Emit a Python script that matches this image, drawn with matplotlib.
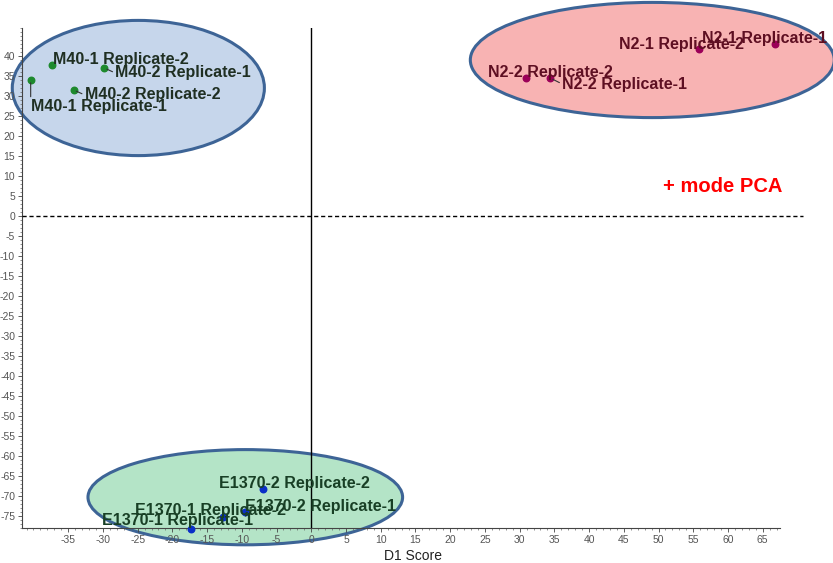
import matplotlib
matplotlib.use("Agg")
import matplotlib.pyplot as plt
from matplotlib.patches import Ellipse
from matplotlib.ticker import MultipleLocator, FixedLocator
import numpy as np

plt.rcParams['font.family'] = ['Liberation Sans', 'DejaVu Sans']
plt.rcParams['axes.unicode_minus'] = False

# scores (D1 on x, D2 on y) per sample
m40_names = ['M40-1 Replicate-1', 'M40-1 Replicate-2', 'M40-2 Replicate-1', 'M40-2 Replicate-2']
m40_x = [-40.4, -37.4, -29.8, -34.2]
m40_y = [34.0, 37.8, 37.0, 31.5]

n2_names = ['N2-1 Replicate-1', 'N2-1 Replicate-2', 'N2-2 Replicate-2', 'N2-2 Replicate-1']
n2_x = [66.8, 55.8, 30.9, 34.4]
n2_y = [43.0, 41.8, 34.5, 34.5]

e_names = ['E1370-2 Replicate-2', 'E1370-2 Replicate-1', 'E1370-1 Replicate-2', 'E1370-1 Replicate-1']
e_x = [-6.9, -9.6, -12.7, -17.3]
e_y = [-68.3, -74.0, -75.3, -78.2]

x_ticks = np.arange(-35, 70, 5)
y_ticks = np.arange(-75, 45, 5)

fig = plt.figure(figsize=(8.33, 5.63), dpi=100)
ax = fig.add_axes([22/833, 35/563, 781/833, 500/563])
ax.set_xlim(-41.65, 70.8)
ax.set_ylim(-78, 47)

# group ellipses (drawn by hand on the original)
ellipses = [
    ((-24.9, 32.0), 36.3, 33.8, '#c6d6eb'),
    ((49.1, 39.0), 52.4, 28.8, '#f8b3b3'),
    ((-9.5, -70.3), 45.3, 23.8, '#b4e4c7'),
]
for c, w, h, fc in ellipses:
    ax.add_patch(Ellipse(c, w, h, facecolor=fc, edgecolor='#3d6496', lw=2.2,
                         clip_on=False, zorder=1))

ax.axhline(0, color='black', lw=1, ls=(0, (3, 2)), zorder=3, clip_on=False)
ax.axvline(0, color='black', lw=1, zorder=3)

groups = [
    (m40_names, m40_x, m40_y, '#1e8a2e', '#1f2f22',
     [(0, -27), (1, 5), (11, -5), (11, -5)],
     [(0, 1), None, (0, 0.5), (0, 0.5)]),
    (n2_names, n2_x, n2_y, '#9b0058', '#5e0f22',
     [(-73, 6), (-80, 4), (-38, 6), (12, -6)],
     [None, None, None, (0, 0.5)]),
    (e_names, e_x, e_y, '#0a2fc8', '#183f25',
     [(-44, 6), (0, 6), (-88, 7), (-89, 8)],
     [None, None, None, None]),
]
for names, xs, ys, pc, tc, offs, leaders in groups:
    ax.scatter(xs, ys, s=22, color=pc, zorder=5, clip_on=False)
    for n, x, y, off, rp in zip(names, xs, ys, offs, leaders):
        ap = None
        if rp is not None:
            ap = dict(arrowstyle='-', color='#333333', lw=0.8, shrinkA=0, shrinkB=2, relpos=rp)
        ax.annotate(n, (x, y), xytext=off, textcoords='offset pixels',
                    ha='left', va='center', fontsize=11.5, fontweight='bold',
                    color=tc, zorder=6, arrowprops=ap, annotation_clip=False)

ax.text(50.6, 7.5, '+ mode PCA', color='#ff0000', fontsize=14.5, fontweight='bold',
        ha='left', va='center')

for s in ['top', 'right']:
    ax.spines[s].set_visible(False)
ax.spines['bottom'].set_bounds(-41.65, 67.5)
for s in ['bottom', 'left']:
    ax.spines[s].set_color('#444444')
    ax.spines[s].set_linewidth(0.8)

ax.set_xticks(x_ticks)
ax.set_yticks(y_ticks)
ax.xaxis.set_minor_locator(FixedLocator(np.arange(-41, 68, 1)))
ax.yaxis.set_minor_locator(MultipleLocator(1))
ax.tick_params(which='major', length=3, width=0.6, color='#444444',
               labelsize=7.5, labelcolor='#555555', pad=2)
ax.tick_params(which='minor', length=1.5, width=0.5, color='#666666')

ax.set_xlabel('D1 Score', fontsize=10, color='#222222', labelpad=3)

fig.savefig('out.png', dpi=100)
